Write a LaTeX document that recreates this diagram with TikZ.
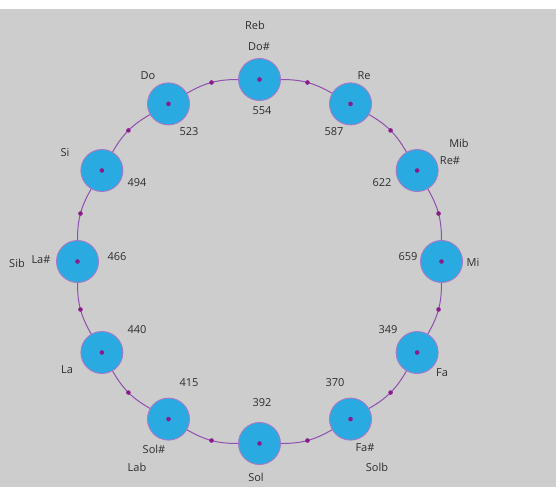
\documentclass[tikz,border=0pt]{standalone}
\usepackage{fontspec}
\setmainfont{Open Sans}
\definecolor{bggray}{HTML}{CDCDCD}
\definecolor{notefill}{HTML}{29ABE2}
\definecolor{noteedge}{HTML}{A678C8}
\definecolor{ringc}{HTML}{9050B0}
\definecolor{dotc}{HTML}{8B1A8B}
\definecolor{txt}{HTML}{2E2E2E}
\tikzset{
  note/.style={circle, minimum size=42pt, inner sep=0pt, fill=notefill, draw=noteedge, line width=0.9pt},
  ring/.style={draw=ringc, line width=1pt},
  middot/.style={circle, fill=dotc, inner sep=0pt, minimum size=4.6pt},
  lbl/.style={font=\fontsize{11}{13}\selectfont, text=txt, inner sep=0pt}
}
\begin{document}
\begin{tikzpicture}[x=1pt,y=-1pt]
\useasboundingbox (0,0) rectangle (556,487);
\fill[white] (0,0) rectangle (556,487);
\fill[bggray] (0,9) rectangle (556,487);
% notes on the circle
\foreach \i in {0,...,11}{
  \node[note] (n\i) at ({259.5+182*sin(30*\i)},{261.5-182*cos(30*\i)}) {};
}
% ring connectors
\foreach \i in {0,...,11}{
  \pgfmathtruncatemacro{\j}{mod(\i+1,12)}
  \draw[ring] (n\i) to[bend left=15] node[middot]{} (n\j);
}
% center dots
\foreach \i in {0,...,11}{
  \fill[dotc] (n\i.center) circle (2.3pt);
}
% labels
\node[lbl] (reb) at (255,25) {Reb};
\node[lbl] (dos) at (259,47) {Do\#};
\node[lbl] (f554) at (262,111) {554};
\node[lbl] (do) at (148,76) {Do};
\node[lbl] (f523) at (189,132) {523};
\node[lbl] (re) at (364,76) {Re};
\node[lbl] (f587) at (334,132) {587};
\node[lbl] (mib) at (459,143) {Mib};
\node[lbl] (res) at (450,161) {Re\#};
\node[lbl] (si) at (65,153) {Si};
\node[lbl] (f494) at (137,183) {494};
\node[lbl] (f622) at (382,183) {622};
\node[lbl] (sib) at (17,263) {Sib};
\node[lbl] (las) at (41,260) {La\#};
\node[lbl] (f466) at (117,257) {466};
\node[lbl] (f659) at (408,257) {659};
\node[lbl] (mi) at (473,262) {Mi};
\node[lbl] (f440) at (137,330) {440};
\node[lbl] (f349) at (388,330) {349};
\node[lbl] (la) at (67,370) {La};
\node[lbl] (fa) at (442,373) {Fa};
\node[lbl] (f415) at (189,383) {415};
\node[lbl] (f370) at (335,383) {370};
\node[lbl] (f392) at (262,403) {392};
\node[lbl] (sols) at (154,449) {Sol\#};
\node[lbl] (lab) at (137,467) {Lab};
\node[lbl] (fas) at (365,448) {Fa\#};
\node[lbl] (solb) at (377,467) {Solb};
\node[lbl] (sol) at (256,477) {Sol};
\end{tikzpicture}
\end{document}
